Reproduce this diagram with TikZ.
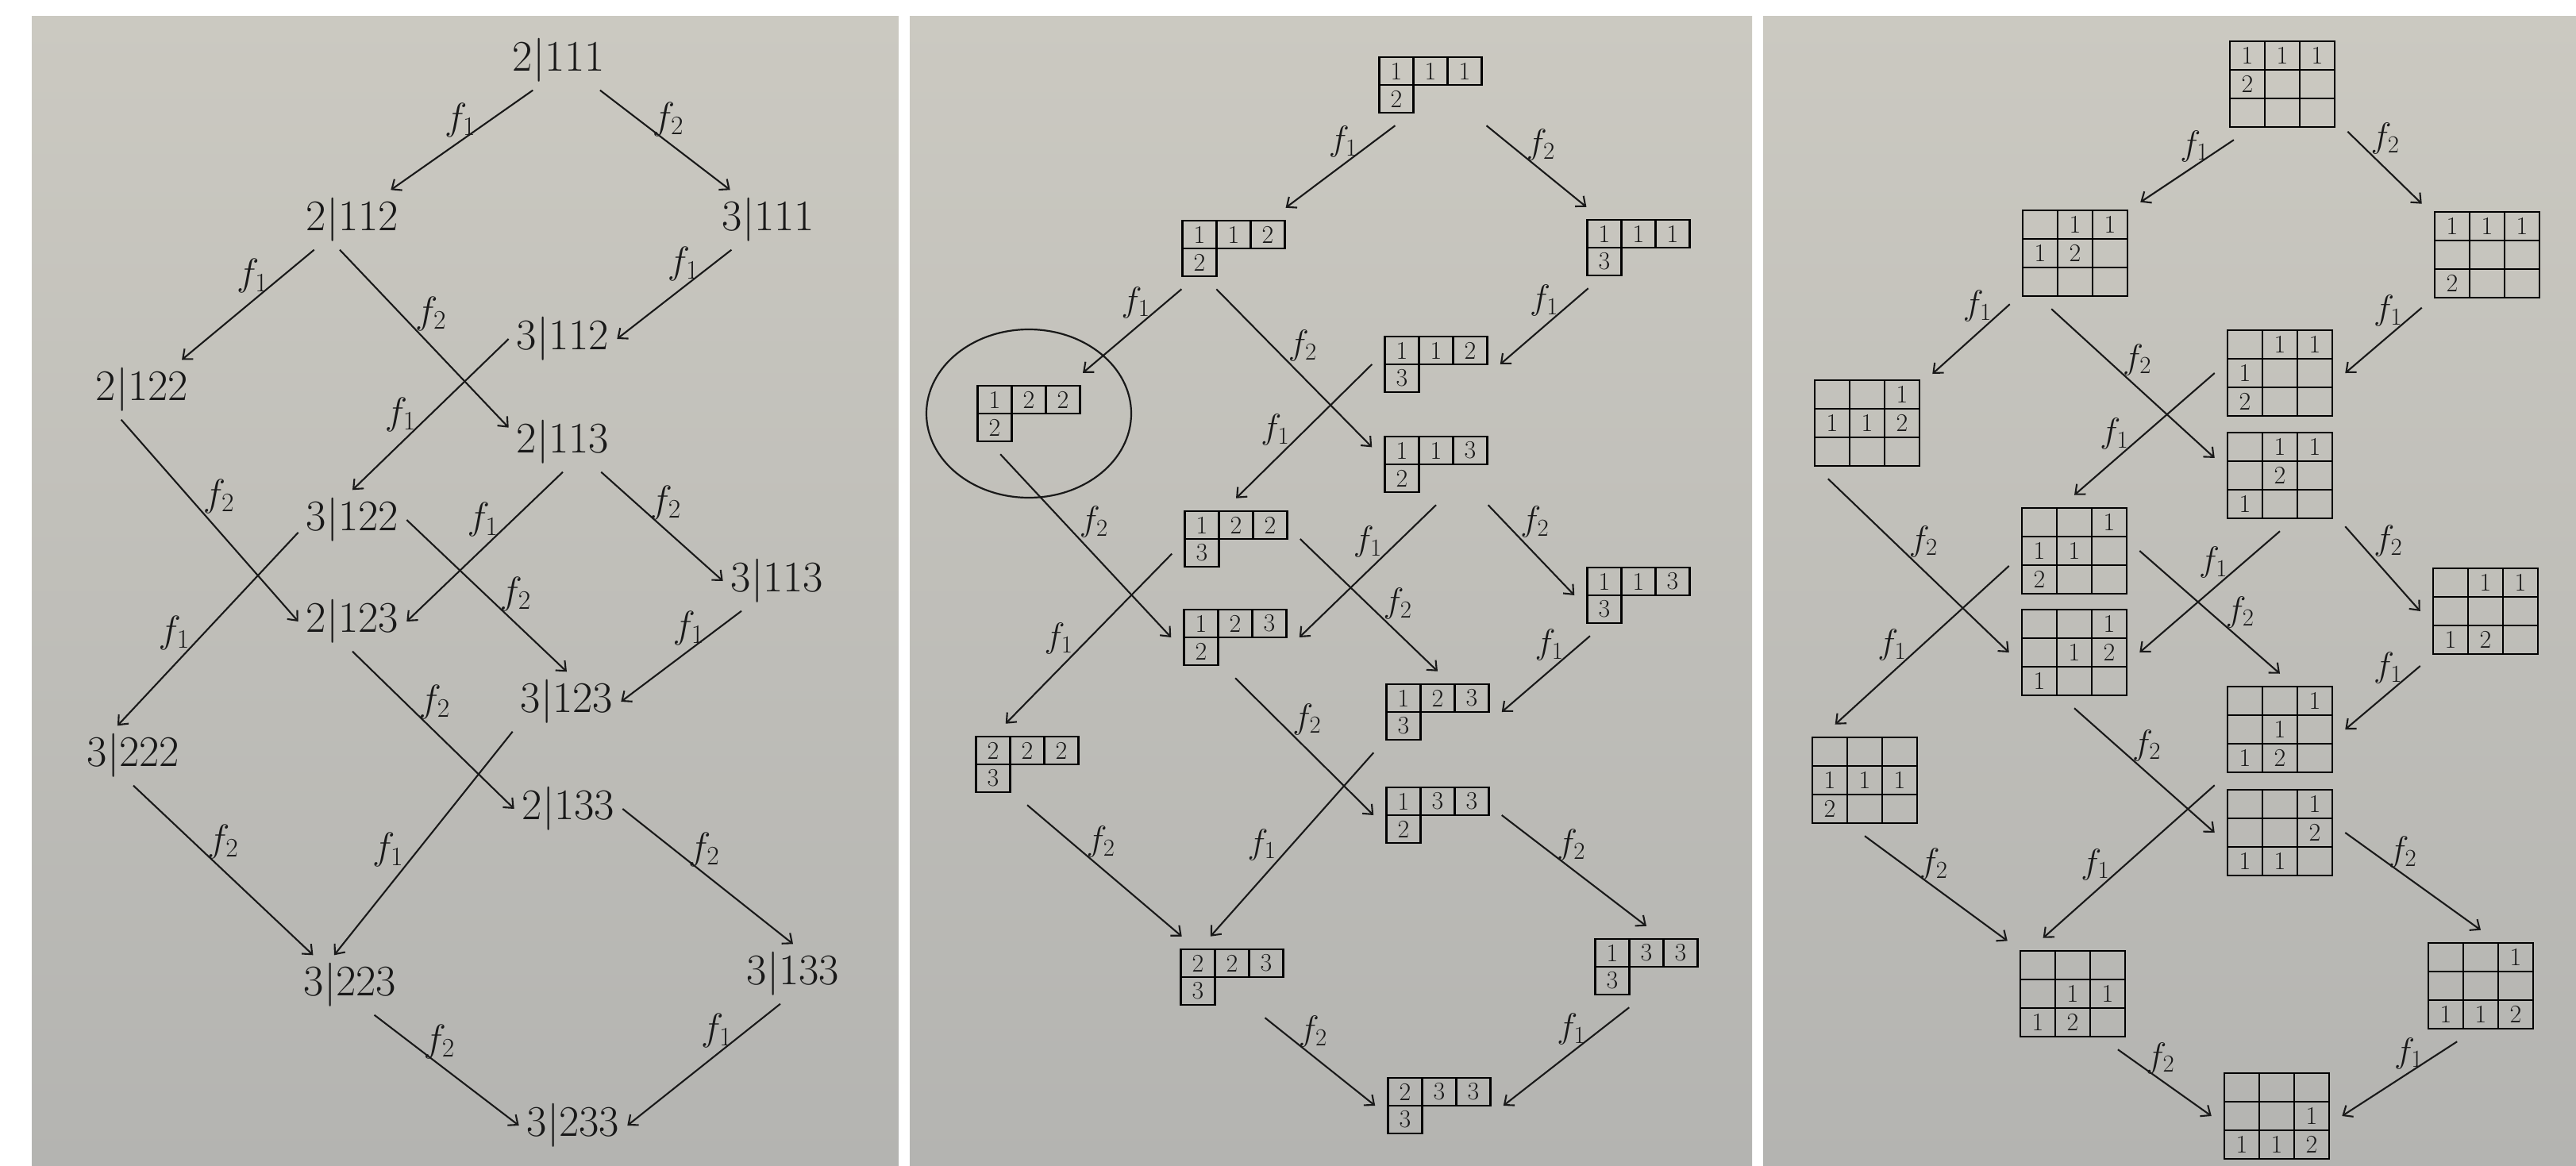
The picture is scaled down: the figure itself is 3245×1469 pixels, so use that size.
\RequirePackage{fix-cm}
\documentclass[tikz,border=0pt]{standalone}
\usepackage{amsmath,amssymb}
\usepackage{tikz}
\usetikzlibrary{arrows.meta,matrix}
\usepackage{xcolor}
\definecolor{ink}{RGB}{25,25,25}
\definecolor{paperhi}{RGB}{203,201,193}
\definecolor{paperlo}{RGB}{180,180,177}

\begin{document}
\begin{tikzpicture}[x=1pt,y=-1pt,>={Straight Barb[length=10pt,width=17pt]},color=ink]
\tikzstyle{word}=[inner sep=10pt,font=\fontsize{55}{64}\selectfont]
\tikzstyle{tabcell}=[draw,line width=2.1pt,anchor=center,inner sep=0pt,font=\fontsize{32}{32}\selectfont]
\tikzstyle{frame31}=[matrix of nodes,inner sep=15pt,column sep=-2.1pt,row sep=-2.1pt,nodes={tabcell,minimum width=43pt,minimum height=35pt}]
\tikzstyle{grid33}=[matrix of nodes,nodes in empty cells,inner sep=15pt,column sep=-2.1pt,row sep=-2.1pt,nodes={tabcell,minimum width=44pt,minimum height=36pt}]
\tikzstyle{arr}=[->,line width=2.1pt]
\tikzstyle{fa}=[font=\fontsize{48}{52}\selectfont,xshift=-38pt]
\tikzstyle{fb}=[font=\fontsize{48}{52}\selectfont,xshift=38pt]
\tikzstyle{ga}=[font=\fontsize{44}{48}\selectfont,xshift=-38pt]
\tikzstyle{gb}=[font=\fontsize{44}{48}\selectfont,xshift=38pt]
\useasboundingbox (0,0) rectangle (3245,1469);
\fill[white] (0,0) rectangle (3245,1469);
% the three photographed pages
\shade[top color=paperhi,bottom color=paperlo] (40,21) rectangle (1132,1469);
\shade[top color=paperhi,bottom color=paperlo] (1146,21) rectangle (2207,1469);
\shade[top color=paperhi,bottom color=paperlo] (2221,21) rectangle (3245,1469);

% page 1: words
\node[word] (w2111) at (704,76) {$2|111$};
\node[word] (w2112) at (444,277) {$2|112$};
\node[word] (w3111) at (968,277) {$3|111$};
\node[word] (w2122) at (179,491) {$2|122$};
\node[word] (w3112) at (709,427) {$3|112$};
\node[word] (w2113) at (709,557) {$2|113$};
\node[word] (w3122) at (444,655) {$3|122$};
\node[word] (w3113) at (979,732) {$3|113$};
\node[word] (w2123) at (444,783) {$2|123$};
\node[word] (w3123) at (714,884) {$3|123$};
\node[word] (w3222) at (168,952) {$3|222$};
\node[word] (w2133) at (716,1019) {$2|133$};
\node[word] (w3223) at (441,1241) {$3|223$};
\node[word] (w3133) at (999,1227) {$3|133$};
\node[word] (w3233) at (722,1418) {$3|233$};
\draw[arr] (w2111.229) -- node[pos=.3,fa]{$f_1$} (w2112.38);
\draw[arr] (w2111.-36) -- node[pos=.29,fb]{$f_2$} (w3111.142);
\draw[arr] (w2112.218) -- node[pos=.24,fa]{$f_1$} (w2122.37);
\draw[arr] (w2112.-113) -- node[pos=.36,fb]{$f_2$} (w2113.165);
\draw[arr] (w3111.219) -- node[pos=.16,fa]{$f_1$} (w3112.east);
\draw[arr] (w2122.-125) -- node[pos=.38,fb]{$f_2$} (w2123.west);
\draw[arr] (w3112.west) -- node[pos=.5,fa]{$f_1$} (w3122.north);
\draw[arr] (w2113.south) -- node[pos=.32,fa]{$f_1$} (w2123.east);
\draw[arr] (w2113.-38) -- node[pos=.28,fb]{$f_2$} (w3113.west);
\draw[arr] (w3122.193) -- node[pos=.52,fa]{$f_1$} (w3222.118);
\draw[arr] (w3122.east) -- node[pos=.49,fb]{$f_2$} (w3123.north);
\draw[arr] (w3113.220) -- node[pos=.19,fa]{$f_1$} (w3123.east);
\draw[arr] (w2123.south) -- node[pos=.32,fb]{$f_2$} (w2133.west);
\draw[arr] (w3123.south west) -- node[pos=.53,fa]{$f_1$} (w3223.118);
\draw[arr] (w3222.south) -- node[pos=.33,fb]{$f_2$} (w3223.141);
\draw[arr] (w2133.east) -- node[pos=.3,fb]{$f_2$} (w3133.north);
\draw[arr] (w3223.-51) -- node[pos=.24,fb]{$f_2$} (w3233.west);
\draw[arr] (w3133.-113) -- node[pos=.22,fa]{$f_1$} (w3233.east);

% page 2: tableaux of shape (3,1)
\matrix (t2111) [frame31] at (1802,107) {1 & 1 & 1\\ 2\\};
\matrix (t2112) [frame31] at (1554,313) {1 & 1 & 2\\ 2\\};
\matrix (t3111) [frame31] at (2064,312) {1 & 1 & 1\\ 3\\};
\matrix (t2122) [frame31] at (1296,521) {1 & 2 & 2\\ 2\\};
\matrix (t3112) [frame31] at (1809,459) {1 & 1 & 2\\ 3\\};
\matrix (t2113) [frame31] at (1809,585) {1 & 1 & 3\\ 2\\};
\matrix (t3122) [frame31] at (1557,679) {1 & 2 & 2\\ 3\\};
\matrix (t3113) [frame31] at (2064,750) {1 & 1 & 3\\ 3\\};
\matrix (t2123) [frame31] at (1556,803) {1 & 2 & 3\\ 2\\};
\matrix (t3123) [frame31] at (1811,897) {1 & 2 & 3\\ 3\\};
\matrix (t3222) [frame31] at (1294,963) {2 & 2 & 2\\ 3\\};
\matrix (t2133) [frame31] at (1811,1027) {1 & 3 & 3\\ 2\\};
\matrix (t3223) [frame31] at (1552,1231) {2 & 2 & 3\\ 3\\};
\matrix (t3133) [frame31] at (2074,1218) {1 & 3 & 3\\ 3\\};
\matrix (t3233) [frame31] at (1813,1393) {2 & 3 & 3\\ 3\\};
\draw[line width=2.2pt] (t2122) ellipse [x radius=129pt,y radius=106pt];
\draw[arr] (t2111.229) -- node[pos=.2,ga]{$f_1$} (t2112.38);
\draw[arr] (t2111.-36) -- node[pos=.24,gb]{$f_2$} (t3111.142);
\draw[arr] (t2112.218) -- node[pos=.16,ga]{$f_1$} (t2122.37);
\draw[arr] (t2112.-113) -- node[pos=.36,gb]{$f_2$} (t2113.165);
\draw[arr] (t3111.219) -- node[pos=.16,ga]{$f_1$} (t3112.east);
\draw[arr] (t2122.-125) -- node[pos=.37,gb]{$f_2$} (t2123.west);
\draw[arr] (t3112.west) -- node[pos=.49,ga]{$f_1$} (t3122.north);
\draw[arr] (t2113.south) -- node[pos=.28,ga]{$f_1$} (t2123.east);
\draw[arr] (t2113.-38) -- node[pos=.19,gb]{$f_2$} (t3113.west);
\draw[arr] (t3122.193) -- node[pos=.5,ga]{$f_1$} (t3222.118);
\draw[arr] (t3122.east) -- node[pos=.49,gb]{$f_2$} (t3123.north);
\draw[arr] (t3113.220) -- node[pos=.12,ga]{$f_1$} (t3123.east);
\draw[arr] (t2123.south) -- node[pos=.3,gb]{$f_2$} (t2133.west);
\draw[arr] (t3123.south west) -- node[pos=.5,ga]{$f_1$} (t3223.118);
\draw[arr] (t3222.south) -- node[pos=.28,gb]{$f_2$} (t3223.141);
\draw[arr] (t2133.east) -- node[pos=.27,gb]{$f_2$} (t3133.north);
\draw[arr] (t3223.-51) -- node[pos=.16,gb]{$f_2$} (t3233.west);
\draw[arr] (t3133.-113) -- node[pos=.22,ga]{$f_1$} (t3233.east);

% page 3: 3x3 grids
\matrix (g2111) [grid33] at (2875,106) {1 & 1 & 1\\ 2 & & \\ & & \\};
\matrix (g2112) [grid33] at (2614,319) { & 1 & 1\\ 1 & 2 & \\ & & \\};
\matrix (g3111) [grid33] at (3133,321) {1 & 1 & 1\\ & & \\ 2 & & \\};
\matrix (g2122) [grid33] at (2352,533) { & & 1\\ 1 & 1 & 2\\ & & \\};
\matrix (g3112) [grid33] at (2872,470) { & 1 & 1\\ 1 & & \\ 2 & & \\};
\matrix (g2113) [grid33] at (2872,599) { & 1 & 1\\ & 2 & \\ 1 & & \\};
\matrix (g3122) [grid33] at (2613,694) { & & 1\\ 1 & 1 & \\ 2 & & \\};
\matrix (g3113) [grid33] at (3131,770) { & 1 & 1\\ & & \\ 1 & 2 & \\};
\matrix (g2123) [grid33] at (2613,822) { & & 1\\ & 1 & 2\\ 1 & & \\};
\matrix (g3123) [grid33] at (2872,919) { & & 1\\ & 1 & \\ 1 & 2 & \\};
\matrix (g3222) [grid33] at (2349,983) { & & \\ 1 & 1 & 1\\ 2 & & \\};
\matrix (g2133) [grid33] at (2872,1049) { & & 1\\ & & 2\\ 1 & 1 & \\};
\matrix (g3223) [grid33] at (2611,1252) { & & \\ & 1 & 1\\ 1 & 2 & \\};
\matrix (g3133) [grid33] at (3125,1242) { & & 1\\ & & \\ 1 & 1 & 2\\};
\matrix (g3233) [grid33] at (2868,1406) { & & \\ & & 1\\ 1 & 1 & 2\\};
\draw[arr] (g2111.229) -- node[pos=.1,ga]{$f_1$} (g2112.38);
\draw[arr] (g2111.-36) -- node[pos=.1,gb]{$f_2$} (g3111.142);
\draw[arr] (g2112.218) -- node[pos=.03,ga]{$f_1$} (g2122.37);
\draw[arr] (g2112.-113) -- node[pos=.34,gb]{$f_2$} (g2113.165);
\draw[arr] (g3111.219) -- node[pos=.05,ga]{$f_1$} (g3112.east);
\draw[arr] (g2122.-125) -- node[pos=.36,gb]{$f_2$} (g2123.west);
\draw[arr] (g3112.west) -- node[pos=.5,ga]{$f_1$} (g3122.north);
\draw[arr] (g2113.south) -- node[pos=.26,ga]{$f_1$} (g2123.east);
\draw[arr] (g2113.-38) -- node[pos=.17,gb]{$f_2$} (g3113.west);
\draw[arr] (g3122.193) -- node[pos=.5,ga]{$f_1$} (g3222.118);
\draw[arr] (g3122.east) -- node[pos=.5,gb]{$f_2$} (g3123.north);
\draw[arr] (g3113.220) -- node[pos=.03,ga]{$f_1$} (g3123.east);
\draw[arr] (g2123.south) -- node[pos=.3,gb]{$f_2$} (g2133.west);
\draw[arr] (g3123.south west) -- node[pos=.52,ga]{$f_1$} (g3223.118);
\draw[arr] (g3222.south) -- node[pos=.27,gb]{$f_2$} (g3223.141);
\draw[arr] (g2133.east) -- node[pos=.2,gb]{$f_2$} (g3133.north);
\draw[arr] (g3223.-51) -- node[pos=.13,gb]{$f_2$} (g3233.west);
\draw[arr] (g3133.-113) -- node[pos=.16,ga]{$f_1$} (g3233.east);
\end{tikzpicture}
\end{document}
